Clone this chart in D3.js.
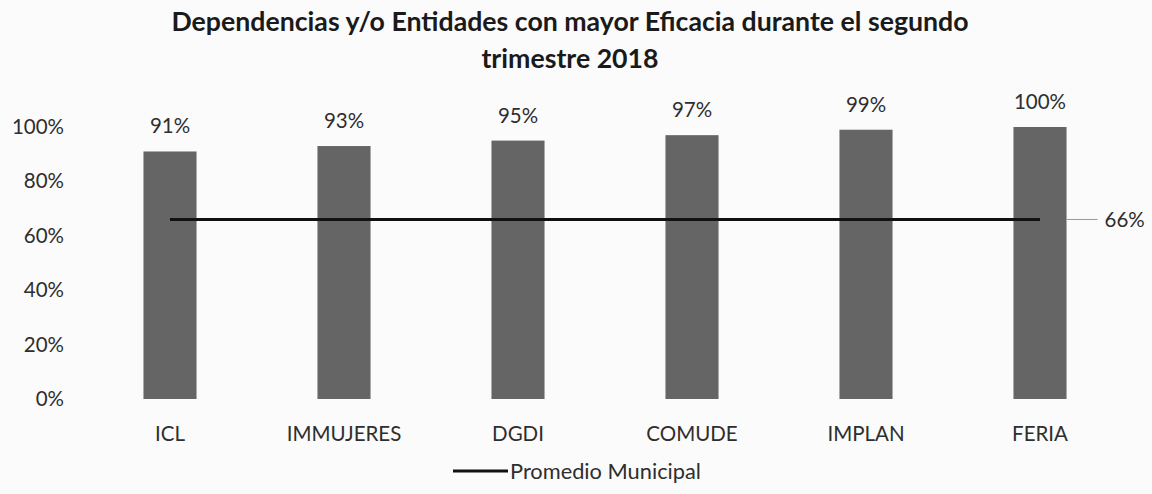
<!DOCTYPE html>
<html><head><meta charset="utf-8">
<script src="https://cdn.jsdelivr.net/npm/d3@7"></script>
<style>body{margin:0;background:#fbfbfb}svg{display:block}</style>
</head><body>
<svg id="c" width="1152" height="494"></svg>
<script>
const categories = ["ICL","IMMUJERES","DGDI","COMUDE","IMPLAN","FERIA"];
const eficacia = [0.91,0.93,0.95,0.97,0.99,1.00];
const promedio = [0.66,0.66,0.66,0.66,0.66,0.66];
const promedioLabel = "66%";
const yTicks = [0,0.2,0.4,0.6,0.8,1.0];
const titleLines = ["Dependencias y/o Entidades con mayor Eficacia durante el segundo","trimestre 2018"];
const legendLabel = "Promedio Municipal";

const svg = d3.select("#c");
const font = "Lato, sans-serif";
const txt = "#2e2e2e";
const x = d3.scaleBand().domain(categories).range([83,1127]).paddingInner(0.695).paddingOuter(0.3475);
const y = d3.scaleLinear().domain([0,1]).range([399,127]);

svg.append("g").selectAll("text").data(titleLines).join("text")
  .attr("x",570).attr("y",(d,i)=>31+i*37).attr("text-anchor","middle")
  .attr("font-family",font).attr("font-weight","bold").attr("font-size",26.7)
  .attr("fill","#1a1a1a").text(d=>d);

const yAxis = d3.axisLeft(y).tickValues(yTicks).tickFormat(d3.format(".0%")).tickSize(0).tickPadding(0);
const ga = svg.append("g").attr("transform","translate(64,0)").call(yAxis);
ga.select(".domain").remove();
ga.selectAll("text").attr("font-family",font).attr("font-size",20.5).attr("fill",txt);

const xAxis = d3.axisBottom(x).tickSize(0).tickPadding(0);
const gx = svg.append("g").attr("transform","translate(0,427)").call(xAxis);
gx.select(".domain").remove();
gx.selectAll("text").attr("font-family",font).attr("font-size",20.5).attr("fill",txt).attr("dy","0.7em");

svg.append("g").selectAll("rect").data(categories).join("rect")
  .attr("x",d=>x(d)).attr("width",x.bandwidth())
  .attr("y",(d,i)=>y(eficacia[i])).attr("height",(d,i)=>y(0)-y(eficacia[i]))
  .attr("fill","#656565");

svg.append("g").selectAll("text").data(categories).join("text")
  .attr("x",d=>x(d)+x.bandwidth()/2).attr("y",(d,i)=>y(eficacia[i])-18)
  .attr("text-anchor","middle").attr("font-family",font).attr("font-size",20.5).attr("fill",txt)
  .text((d,i)=>d3.format(".0%")(eficacia[i]));

const line = d3.line().x((d,i)=>x(categories[i])+x.bandwidth()/2).y(d=>y(d));
svg.append("path").datum(promedio).attr("d",line).attr("fill","none").attr("stroke","#111").attr("stroke-width",3);

const last = categories.length-1;
const lx = x(categories[last])+x.bandwidth();
svg.append("line").attr("x1",lx).attr("x2",lx+31).attr("y1",y(promedio[last])).attr("y2",y(promedio[last]))
  .attr("stroke","#999").attr("stroke-width",1);
svg.append("text").attr("x",lx+38).attr("y",y(promedio[last])).attr("dy","0.35em")
  .attr("font-family",font).attr("font-size",20.5).attr("fill",txt).text(promedioLabel);

svg.append("line").attr("x1",453).attr("x2",508).attr("y1",471).attr("y2",471).attr("stroke","#111").attr("stroke-width",3);
svg.append("text").attr("x",510).attr("y",471).attr("dy","0.35em").attr("font-family",font).attr("font-size",21.8).attr("fill",txt).text(legendLabel);
</script>
</body></html>
